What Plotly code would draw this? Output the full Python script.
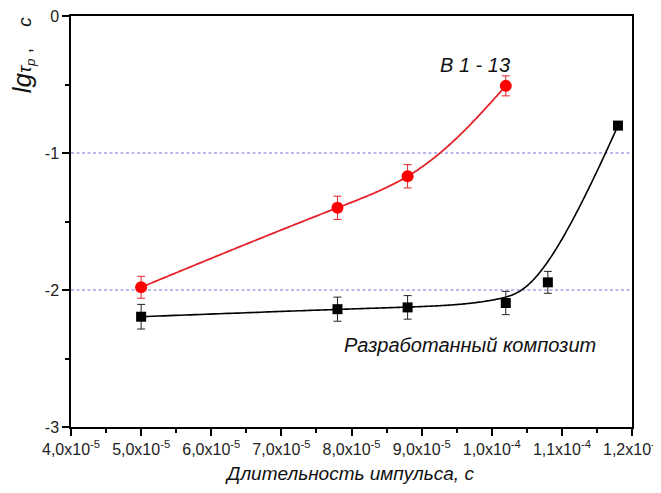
import numpy as np
import plotly.graph_objects as go

# ---- data ----
red_x = [5.0e-5, 7.8e-5, 8.8e-5, 1.02e-4]
red_y = [-1.98, -1.40, -1.17, -0.51]
red_err = [0.08, 0.085, 0.085, 0.073]

black_x = [5.0e-5, 7.8e-5, 8.8e-5, 1.02e-4, 1.08e-4, 1.18e-4]
black_y = [-2.195, -2.14, -2.127, -2.095, -1.944, -0.80]
black_err = [0.09, 0.088, 0.086, 0.085, 0.08, 0.0]

ref_levels = [-1, -2]

x_tickvals = [4e-5, 5e-5, 6e-5, 7e-5, 8e-5, 9e-5, 1.0e-4, 1.1e-4, 1.2e-4]
x_ticktext = ["4,0x10<sup>-5</sup>", "5,0x10<sup>-5</sup>", "6,0x10<sup>-5</sup>",
              "7,0x10<sup>-5</sup>", "8,0x10<sup>-5</sup>", "9,0x10<sup>-5</sup>",
              "1,0x10<sup>-4</sup>", "1,1x10<sup>-4</sup>", "1,2x10<sup>-4</sup>"]
y_tickvals = [0, -1, -2, -3]
y_ticktext = ["0", "-1", "-2", "-3"]

label_red = "В 1 - 13"
label_black = "Разработанный композит"
x_title = "Длительность импульса, с"

X_RANGE = [4e-5, 1.2e-4]
Y_RANGE = [-3, 0]
PLOT_W, PLOT_H = 561, 411


# ---- clamped cubic B-spline using the black points as control points ----
def bspline(px, py, degree=3, n=300):
    P = np.column_stack([px, py])
    m = len(P)
    inner = np.linspace(0, 1, m - degree + 1)
    knots = np.concatenate([[0] * degree, inner, [1] * degree])
    ts = np.linspace(0, 1, n)
    out = []
    for t in ts:
        N = np.zeros(len(knots) - 1)
        for i in range(len(knots) - 1):
            if knots[i] <= t < knots[i + 1] or (t == 1 and knots[i] < t <= knots[i + 1]):
                N[i] = 1.0
        for d in range(1, degree + 1):
            Nn = np.zeros(len(knots) - 1 - d)
            for i in range(len(Nn)):
                a = 0.0
                if knots[i + d] != knots[i]:
                    a = (t - knots[i]) / (knots[i + d] - knots[i]) * N[i]
                b = 0.0
                if knots[i + d + 1] != knots[i + 1]:
                    b = (knots[i + d + 1] - t) / (knots[i + d + 1] - knots[i + 1]) * N[i + 1]
                Nn[i] = a + b
            N = Nn
        out.append(N[:m] @ P)
    out = np.array(out)
    return out[:, 0], out[:, 1]


def natural_spline_1d(x, y, xs):
    x = np.asarray(x, float)
    y = np.asarray(y, float)
    m = len(x)
    h = np.diff(x)
    A = np.zeros((m, m))
    r = np.zeros(m)
    A[0, 0] = A[-1, -1] = 1.0
    for i in range(1, m - 1):
        A[i, i - 1] = h[i - 1]
        A[i, i] = 2 * (h[i - 1] + h[i])
        A[i, i + 1] = h[i]
        r[i] = 3 * ((y[i + 1] - y[i]) / h[i] - (y[i] - y[i - 1]) / h[i - 1])
    c = np.linalg.solve(A, r)
    b = (y[1:] - y[:-1]) / h - h * (2 * c[:-1] + c[1:]) / 3
    d = (c[1:] - c[:-1]) / (3 * h)
    idx = np.clip(np.searchsorted(x, xs) - 1, 0, m - 2)
    dx = xs - x[idx]
    return y[idx] + b[idx] * dx + c[idx] * dx ** 2 + d[idx] * dx ** 3


def parametric_spline(px, py, n=300):
    # smooth connecting line, parameterised by chord length on screen
    sx = (np.asarray(px) - X_RANGE[0]) / (X_RANGE[1] - X_RANGE[0]) * PLOT_W
    sy = (np.asarray(py) - Y_RANGE[0]) / (Y_RANGE[1] - Y_RANGE[0]) * PLOT_H
    t = np.concatenate([[0], np.cumsum(np.hypot(np.diff(sx), np.diff(sy)))])
    ts = np.linspace(0, t[-1], n)
    ox = natural_spline_1d(t, sx, ts)
    oy = natural_spline_1d(t, sy, ts)
    return (X_RANGE[0] + ox / PLOT_W * (X_RANGE[1] - X_RANGE[0]),
            Y_RANGE[0] + oy / PLOT_H * (Y_RANGE[1] - Y_RANGE[0]))


bfx, bfy = bspline(np.array(black_x) * 1e5, np.array(black_y))
bfx = bfx / 1e5
rfx, rfy = parametric_spline(red_x, red_y)

FONT = "Liberation Sans, Arial, sans-serif"
fig = go.Figure()

for lv in ref_levels:
    fig.add_shape(type="line", xref="paper", x0=0, x1=1, yref="y", y0=lv, y1=lv,
                  line=dict(color="#7474e0", width=1.1, dash="3px,2.5px"), layer="below")

# red curve + markers
fig.add_trace(go.Scatter(x=rfx, y=rfy, mode="lines",
                         line=dict(color="#e3242b", width=1.8, simplify=False),
                         hoverinfo="skip", showlegend=False))
fig.add_trace(go.Scatter(x=red_x, y=red_y, mode="markers",
                         marker=dict(symbol="circle", size=12, color="#ff0000"),
                         error_y=dict(type="data", array=red_err, color="#e3242b",
                                      thickness=1, width=4),
                         showlegend=False))

# black curve + markers
fig.add_trace(go.Scatter(x=bfx, y=bfy, mode="lines",
                         line=dict(color="black", width=1.6, simplify=False),
                         hoverinfo="skip", showlegend=False))
fig.add_trace(go.Scatter(x=black_x, y=black_y, mode="markers",
                         marker=dict(symbol="square", size=10, color="black"),
                         error_y=dict(type="data", array=black_err, color="#222222",
                                      thickness=1, width=4),
                         showlegend=False))

fig.add_annotation(x=9.76e-5, y=-0.36, xref="x", yref="y", text="<i>" + label_red + "</i>",
                   showarrow=False, font=dict(family=FONT, size=20, color="#111111"))
fig.add_annotation(x=9.69e-5, y=-2.40, xref="x", yref="y", text="<i>" + label_black + "</i>",
                   showarrow=False, font=dict(family=FONT, size=20, color="#111111"))

# x title
fig.add_annotation(xref="paper", yref="paper", x=0.497, y=-0.113, xanchor="center",
                   yanchor="middle", showarrow=False, text="<i>" + x_title + "</i>",
                   font=dict(family=FONT, size=19, color="#111111"))

# y title
fig.add_annotation(xref="paper", yref="paper", x=-0.087, y=0.905, textangle=-90,
                   xanchor="center", yanchor="middle", showarrow=False,
                   text=("<i><span style='font-size:26px'>lg</span>"
                         "<span style='font-size:19px'>τ</span><sub>p</sub></i>"
                         "<span style='font-size:19px'>\u00a0,\u00a0\u00a0\u00a0\u00a0<i>c</i></span>"),
                   font=dict(family=FONT, size=19, color="#111111"))

# the page body adds an 8px offset, so the figure is 8px smaller on each side
fig.update_layout(
    width=653, height=485,
    margin=dict(l=63, r=29, t=8, b=66, autoexpand=False),
    paper_bgcolor="white", plot_bgcolor="white",
    font=dict(family=FONT, color="black"),
    xaxis=dict(range=X_RANGE, tickvals=x_tickvals, ticktext=x_ticktext,
               automargin=False, ticklabeloverflow="allow",
               ticks="outside", ticklen=7, tickwidth=1.5, tickcolor="black",
               showline=True, linecolor="black", linewidth=1.5, mirror=True,
               showgrid=False, zeroline=False,
               tickfont=dict(family=FONT, size=16, color="#222222"),
               minor=dict(ticks="outside", ticklen=4, tickwidth=1.5, tickcolor="black",
                          tick0=4e-5, dtick=5e-6, showgrid=False)),
    yaxis=dict(range=Y_RANGE, tickvals=y_tickvals, ticktext=y_ticktext,
               automargin=False, ticklabeloverflow="allow",
               ticks="outside", ticklen=7, tickwidth=1.5, tickcolor="black",
               showline=True, linecolor="black", linewidth=1.5, mirror=True,
               showgrid=False, zeroline=False,
               tickfont=dict(family=FONT, size=16, color="#222222"),
               minor=dict(ticks="outside", ticklen=4, tickwidth=1.5, tickcolor="black",
                          tick0=0, dtick=0.5, showgrid=False)),
)

fig.write_html("out.html")
